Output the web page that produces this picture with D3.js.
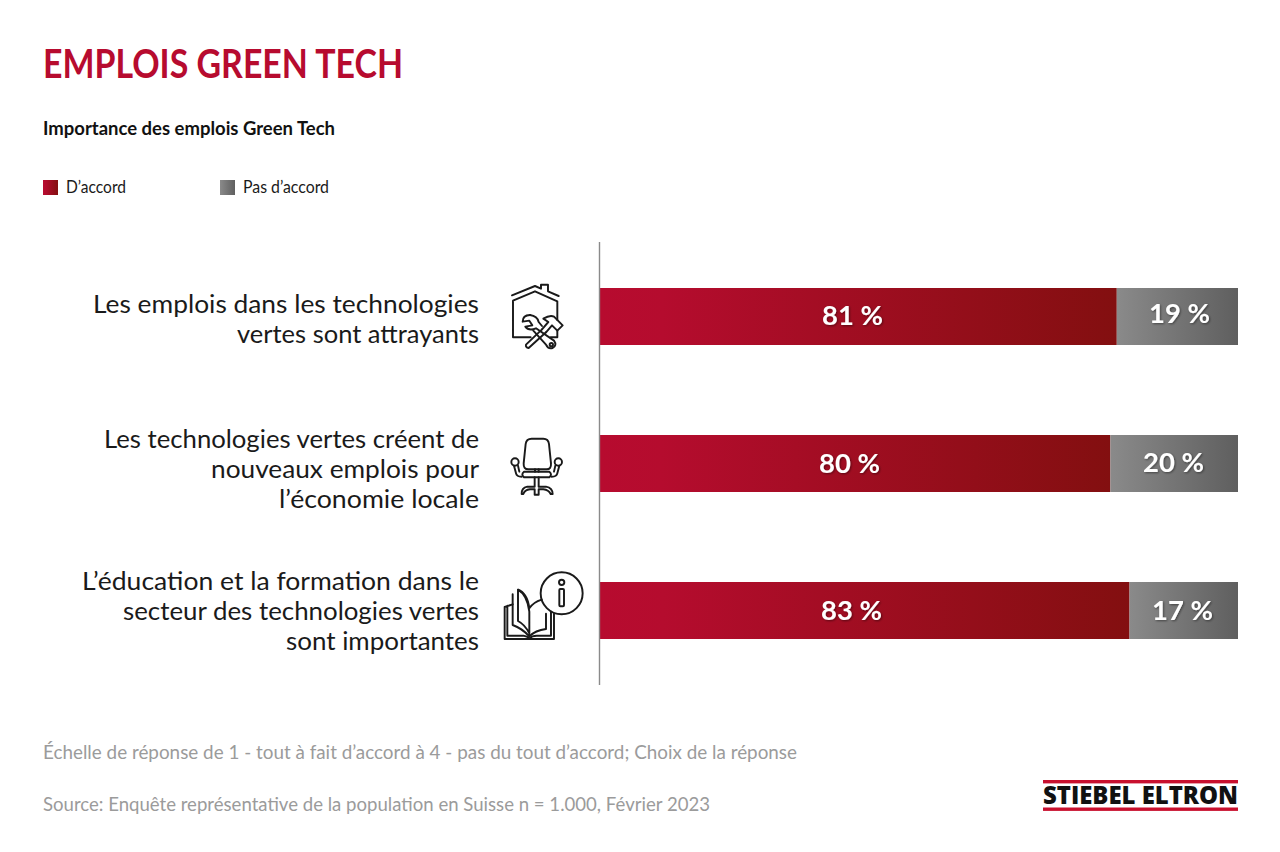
<!DOCTYPE html>
<html>
<head>
<meta charset="utf-8">
<script src="https://cdn.jsdelivr.net/npm/d3@7"></script>
<style>
html, body { margin: 0; padding: 0; background: #fff; }
svg { display: block; }
text { font-family: Lato, "Noto Sans", sans-serif; }
.icon { fill: none; stroke: #1a1a1a; stroke-width: 5.8; stroke-linejoin: round; stroke-linecap: round; }
</style>
</head>
<body>
<svg id="chart" width="1280" height="852"></svg>
<script>
// data
var seriesNames = ["D\u2019accord", "Pas d\u2019accord"];
var agree = [81, 80, 83];
var disagree = [19, 20, 17];
var questions = [
  ["Les emplois dans les technologies", "vertes sont attrayants"],
  ["Les technologies vertes cr\u00e9ent de", "nouveaux emplois pour", "l\u2019\u00e9conomie locale"],
  ["L\u2019\u00e9ducation et la formation dans le", "secteur des technologies vertes", "sont importantes"]
];
var titleText = "EMPLOIS GREEN TECH";
var subtitleText = "Importance des emplois Green Tech";
var noteText = "\u00c9chelle de r\u00e9ponse de 1 - tout \u00e0 fait d\u2019accord \u00e0 4 - pas du tout d\u2019accord; Choix de la r\u00e9ponse";
var sourceText = "Source: Enqu\u00eate repr\u00e9sentative de la population en Suisse n = 1.000, F\u00e9vrier 2023";
var logoText = "STIEBEL ELTRON";

// layout
var lineWidths = [[386, 242], [375, 268, 200], [397, 356, 193]];
var firstBaseline = [313, 448, 590];
var agreeLabelX = [852.5, 849.5, 851.5];
var disagreeLabelX = [1179.5, 1173.5, 1182.5];
var agreeLabelDy = [37, 38, 38];
var disagreeLabelDy = [34.5, 37, 38];

var svg = d3.select("#chart");
var defs = svg.append("defs");

var x = d3.scaleLinear().domain([0, 100]).range([600, 1238]);
var barH = 57;
var rowY = [288, 435, 582];

function gradient(id, stops) {
  var g = defs.append("linearGradient").attr("id", id);
  stops.forEach(function(s) { g.append("stop").attr("offset", s[0]).attr("stop-color", s[1]); });
}
gradient("redGrad", [[0, "#b70b2f"], [0.12, "#b50c2e"], [1, "#830f10"]]);
gradient("grayGrad", [[0, "#8a8a8a"], [1, "#5f5f5f"]]);

var shadow = defs.append("filter").attr("id", "soft").attr("x", "-20%").attr("y", "-20%").attr("width", "140%").attr("height", "140%");
shadow.append("feDropShadow").attr("dx", 1).attr("dy", 1).attr("stdDeviation", 1.2).attr("flood-color", "#000").attr("flood-opacity", 0.45);

// squeeze a text to the width it has in the picture
function put(parent, str, px, py, size, weight, fill, width, anchor) {
  return parent.append("text")
    .attr("x", px).attr("y", py)
    .attr("font-size", size).attr("font-weight", weight).attr("fill", fill)
    .attr("text-anchor", anchor || "start")
    .attr("textLength", width).attr("lengthAdjust", "spacingAndGlyphs")
    .text(str);
}

put(svg, titleText, 43, 78, 40, 700, "#b70b2f", 360);
put(svg, subtitleText, 43, 135, 18.5, 700, "#111", 292);

// legend
svg.append("rect").attr("x", 43).attr("y", 180).attr("width", 15).attr("height", 15).attr("fill", "url(#redGrad)");
svg.append("rect").attr("x", 220).attr("y", 180).attr("width", 15).attr("height", 15).attr("fill", "url(#grayGrad)");
put(svg, seriesNames[0], 66, 193, 16.5, 400, "#1a1a1a", 60);
put(svg, seriesNames[1], 243, 193, 16.5, 400, "#1a1a1a", 86);

// question labels
questions.forEach(function(lines, i) {
  lines.forEach(function(line, j) {
    put(svg, line, 479, firstBaseline[i] + j * 30, 25, 400, "#1a1a1a", lineWidths[i][j], "end");
  });
});

// bars
svg.selectAll(".agree").data(agree).join("rect")
  .attr("class", "agree")
  .attr("x", x(0))
  .attr("y", function(d, i) { return rowY[i]; })
  .attr("width", function(d) { return x(d) - x(0); })
  .attr("height", barH)
  .attr("fill", "url(#redGrad)");

svg.selectAll(".disagree").data(disagree).join("rect")
  .attr("class", "disagree")
  .attr("x", function(d, i) { return x(agree[i]); })
  .attr("y", function(d, i) { return rowY[i]; })
  .attr("width", function(d) { return x(d) - x(0); })
  .attr("height", barH)
  .attr("fill", "url(#grayGrad)");

svg.append("line").attr("x1", x(0) - 0.5).attr("x2", x(0) - 0.5).attr("y1", 242).attr("y2", 685)
  .attr("stroke", "#8a8a8a").attr("stroke-width", 1.4);

// value labels
agree.forEach(function(d, i) {
  put(svg, d + " %", agreeLabelX[i], rowY[i] + agreeLabelDy[i], 26, 700, "#fff", 61, "middle").attr("filter", "url(#soft)");
});
disagree.forEach(function(d, i) {
  put(svg, d + " %", disagreeLabelX[i], rowY[i] + disagreeLabelDy[i], 26, 700, "#fff", 61, "middle").attr("filter", "url(#soft)");
});

// icons, drawn at 3x in the coordinates of their crop
var house = svg.append("g").attr("class", "icon").attr("transform", "translate(480,270) scale(0.3333)");
house.append("path").attr("d", "M96 76 L165 48 L183 56 V44 H204 V64 L236 78");
house.append("path").attr("d", "M99 92 L165 64 L232 94 V150 M232 182 V202 H212 M99 92 V202 H152");
house.append("path").attr("d", "M186 178 L138 224 Q136 232 146 234 L198 187");
house.append("path").attr("d", "M186 178 L205 156 L190 146 Q210 134 222 140 L248 166 L232 182 L216 166 L198 187");
house.append("path").attr("d", "M150 135 Q128 136 128 155 L148 152 L157 166 L136 170 Q146 184 168 175 L222 212 Q232 226 218 234 Q204 238 198 224 L160 182");
house.append("path").attr("d", "M150 135 Q172 138 176 156 L186 168");
house.append("circle").attr("cx", 214).attr("cy", 224).attr("r", 5);

var chair = svg.append("g").attr("class", "icon").attr("transform", "translate(490,420) scale(0.3333)");
chair.append("path").attr("d", "M125 56 H160 Q175 56 177 72 L183 130 Q184 148 170 148 H115 Q100 148 101 130 L107 72 Q109 56 125 56 Z");
chair.append("path").attr("d", "M135 148 V155 M146 148 V155");
chair.append("path").attr("d", "M102 155 H178 Q188 163 178 172 H102 Q92 163 102 155 Z");
chair.append("circle").attr("cx", 75).attr("cy", 126).attr("r", 11);
chair.append("circle").attr("cx", 205).attr("cy", 126).attr("r", 11);
chair.append("path").attr("d", "M72 137 L78 160 Q80 170 95 170 M84 137 L88 155 M208 137 L202 160 Q200 170 185 170 M196 137 L192 155");
chair.append("path").attr("d", "M134 172 V200 H112 Q94 204 95 222 H100 Q104 210 120 208 H134 V224 H146 V208 H160 Q176 210 182 222 H188 Q188 204 168 200 H146 V172");

var book = svg.append("g").attr("class", "icon").attr("transform", "translate(490,565) scale(0.3333)");
book.append("circle").attr("cx", 215).attr("cy", 85).attr("r", 63);
book.append("circle").attr("cx", 215).attr("cy", 52).attr("r", 8);
book.append("rect").attr("x", 208).attr("y", 72).attr("width", 14).attr("height", 52).attr("rx", 3);
book.append("path").attr("d", "M68 118 L44 126 V222 H118 H192 V146 M52 122 V212 H100 Q112 214 118 220 Q126 212 140 212 H183 V140");
book.append("path").attr("d", "M68 88 V180 Q96 190 118 214 V140 Q112 90 84 74 V168 Q104 178 118 205");
book.append("path").attr("d", "M84 74 Q112 84 118 130 Q130 112 155 104 M118 214 Q136 196 168 192 V146");

// footnotes
put(svg, noteText, 43, 759, 18.5, 400, "#9b9b9b", 754);
put(svg, sourceText, 43, 811, 18.5, 400, "#9b9b9b", 667);

// logo
svg.append("rect").attr("x", 1043).attr("y", 780).attr("width", 195).attr("height", 3.4).attr("fill", "#c8102e");
svg.append("rect").attr("x", 1043).attr("y", 807.5).attr("width", 195).attr("height", 3.4).attr("fill", "#c8102e");
put(svg, logoText, 1043, 804, 24, 800, "#111", 195).attr("style", "font-family:'Open Sans'");
</script>
</body>
</html>
